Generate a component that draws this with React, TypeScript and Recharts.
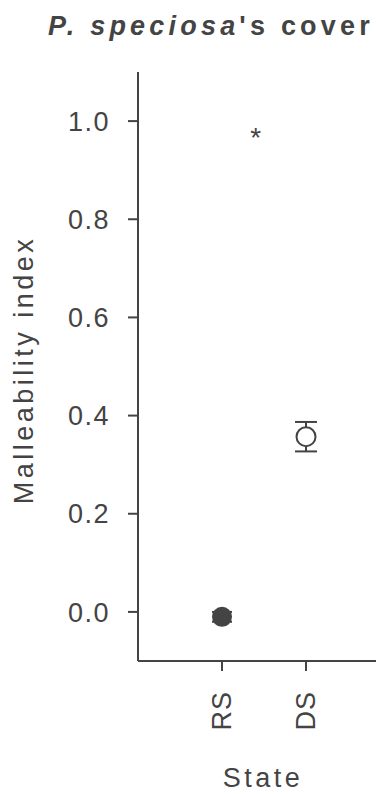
import { ScatterChart, Scatter, XAxis, YAxis, ErrorBar } from "recharts";

const states = ["RS", "DS"];
const means = [-0.01, 0.357];
const errs = [0.01, 0.03];
const yTicks = [0, 0.2, 0.4, 0.6, 0.8, 1.0];
const star = [{ x: 1.4, y: 0.975, label: "*" }];

const INK = "#444444";
const FONT = "'Liberation Sans', Arial, sans-serif";

const rsData = [{ x: 1, y: means[0], err: errs[0] }];
const dsData = [{ x: 2, y: means[1], err: errs[1] }];

function XTick(props: any) {
  const { x, y, payload } = props;
  const ty = y + 18;
  return (
    <text
      x={x}
      y={ty}
      transform={`rotate(-90 ${x} ${ty})`}
      textAnchor="end"
      dominantBaseline="central"
      fill={INK}
      fontSize={27}
      letterSpacing={1}
      fontFamily={FONT}
    >
      {states[payload.value - 1]}
    </text>
  );
}

export default function App() {
  return (
    <div style={{ position: "absolute", left: 0, top: 0, width: 376, height: 794, background: "#fff" }}>
      <div
        style={{
          position: "absolute",
          top: 11,
          left: 0,
          width: 376,
          paddingLeft: 46,
          boxSizing: "border-box",
          textAlign: "center",
          fontFamily: FONT,
          fontWeight: "bold",
          fontSize: 27,
          letterSpacing: 4.2,
          color: INK,
          whiteSpace: "nowrap",
        }}
      >
        <i>P. speciosa</i>'s cover
      </div>
      <ScatterChart width={376} height={794} margin={{ top: 72, right: 0, bottom: 0, left: 0 }}>
        <XAxis
          type="number"
          dataKey="x"
          domain={[0, 2.833]}
          ticks={[1, 2]}
          allowDataOverflow
          height={133}
          stroke={INK}
          strokeWidth={2}
          tickSize={10}
          tick={<XTick />}
          label={{
            content: () => (
              <text x={263} y={787} textAnchor="middle" fill={INK} fontSize={27} letterSpacing={3.5} fontFamily={FONT}>
                State
              </text>
            ),
          }}
        />
        <YAxis
          type="number"
          dataKey="y"
          domain={[-0.1, 1.1]}
          ticks={yTicks}
          allowDataOverflow
          width={138}
          stroke={INK}
          strokeWidth={2}
          tickSize={10}
          tickMargin={18}
          tickFormatter={(v: number) => v.toFixed(1)}
          tick={{ fill: INK, fontSize: 27, letterSpacing: 1.5, fontFamily: FONT }}
          label={{
            content: () => (
              <text
                x={33}
                y={370}
                transform="rotate(-90 33 370)"
                textAnchor="middle"
                fill={INK}
                fontSize={27}
                letterSpacing={3.5}
                fontFamily={FONT}
              >
                Malleability index
              </text>
            ),
          }}
        />
        <Scatter
          data={rsData}
          isAnimationActive={false}
          shape={(p: any) => <circle cx={p.cx} cy={p.cy} r={10} fill={INK} />}
        >
          <ErrorBar dataKey="err" direction="y" width={10} stroke={INK} strokeWidth={2} />
        </Scatter>
        <Scatter
          data={dsData}
          isAnimationActive={false}
          shape={(p: any) => <circle cx={p.cx} cy={p.cy} r={9.5} fill="#fff" stroke={INK} strokeWidth={2} />}
        >
          <ErrorBar dataKey="err" direction="y" width={11} stroke={INK} strokeWidth={2} />
        </Scatter>
        <Scatter
          data={star}
          isAnimationActive={false}
          shape={(p: any) => (
            <text x={p.cx} y={p.cy + 14} textAnchor="middle" fill={INK} fontSize={28} fontFamily={FONT}>
              {p.payload.label}
            </text>
          )}
        />
      </ScatterChart>
    </div>
  );
}
